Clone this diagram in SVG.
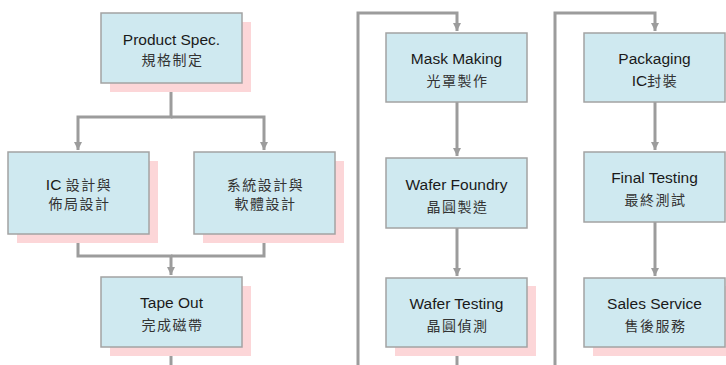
<svg xmlns="http://www.w3.org/2000/svg" width="726" height="365" viewBox="0 0 726 365">
<defs>
<style>
.shadow{fill:#fcd6d8;stroke:none}
.box{fill:#cfe9f0;stroke:#a3a3a3;stroke-width:1.5}
.en{font-family:"Liberation Sans",Arial,sans-serif;font-size:15.5px;fill:#1a1a1a;text-anchor:middle}
.zh{font-family:"Liberation Sans","Noto Sans CJK TC",sans-serif;font-size:14px;fill:#333;text-anchor:middle;letter-spacing:1.5px}
.cj{font-family:"Noto Sans CJK TC",sans-serif;font-size:14px;fill:#333;letter-spacing:1.5px}
.conn{fill:none;stroke:#9c9c9c;stroke-width:3}
</style>
<marker id="arr" markerUnits="userSpaceOnUse" markerWidth="10" markerHeight="10" refX="8" refY="4" orient="auto">
<path d="M0 0 L8 4 L0 8 Z" fill="#9c9c9c"/>
</marker>
</defs>
<rect width="726" height="365" fill="#fff"/>
<g id="connectors">
<path class="conn" d="M171 83 V117 H78 V150" marker-end="url(#arr)"/>
<path class="conn" d="M171 117 H264 V150" marker-end="url(#arr)"/>
<path class="conn" d="M78 234 V256 H171 V275" marker-end="url(#arr)"/>
<path class="conn" d="M264 234 V256 H171"/>
<path class="conn" d="M171 347 V365"/>
<path class="conn" d="M358 365 V13 H457 V31" marker-end="url(#arr)"/>
<path class="conn" d="M457 102 V156" marker-end="url(#arr)"/>
<path class="conn" d="M457 228 V276" marker-end="url(#arr)"/>
<path class="conn" d="M457 347 V365"/>
<path class="conn" d="M555 365 V13 H655 V31" marker-end="url(#arr)"/>
<path class="conn" d="M655 102 V150" marker-end="url(#arr)"/>
<path class="conn" d="M655 222 V276" marker-end="url(#arr)"/>
</g>
<g id="product-spec">
<rect class="shadow" x="110" y="22" width="141" height="70"/>
<rect class="box" x="101" y="13" width="141" height="70"/>
<text class="en" x="171.5" y="45">Product Spec.</text>
<text class="zh" x="172.5" y="65">規格制定</text>
</g>
<g id="ic-design">
<rect class="shadow" x="17" y="161" width="141" height="82"/>
<rect class="box" x="8" y="152" width="141" height="82"/>
<text class="en" x="79" y="190"><tspan>IC </tspan><tspan class="cj">設計與</tspan></text>
<text class="zh" x="79.5" y="209">佈局設計</text>
</g>
<g id="system-design">
<rect class="shadow" x="203" y="161" width="141" height="82"/>
<rect class="box" x="194" y="152" width="141" height="82"/>
<text class="zh" x="265.5" y="190">系統設計與</text>
<text class="zh" x="265.5" y="209">軟體設計</text>
</g>
<g id="tape-out">
<rect class="shadow" x="110" y="286" width="141" height="70"/>
<rect class="box" x="101" y="277" width="141" height="70"/>
<text class="en" x="171.5" y="308">Tape Out</text>
<text class="zh" x="172.5" y="330">完成磁帶</text>
</g>
<g id="mask-making">
<rect class="box" x="386" y="33" width="141" height="69"/>
<text class="en" x="456.5" y="64">Mask Making</text>
<text class="zh" x="457.5" y="86">光罩製作</text>
</g>
<g id="wafer-foundry">
<rect class="box" x="386" y="158" width="141" height="70"/>
<text class="en" x="456.5" y="190">Wafer Foundry</text>
<text class="zh" x="457.5" y="212">晶圓製造</text>
</g>
<g id="wafer-testing">
<rect class="shadow" x="395" y="286" width="141" height="70"/>
<rect class="box" x="386" y="278" width="141" height="69"/>
<text class="en" x="456.5" y="309">Wafer Testing</text>
<text class="zh" x="457.5" y="331">晶圓偵測</text>
</g>
<g id="packaging">
<rect class="box" x="584" y="33" width="141" height="69"/>
<text class="en" x="654.5" y="64">Packaging</text>
<text class="en" x="655" y="86"><tspan>IC</tspan><tspan class="cj">封裝</tspan></text>
</g>
<g id="final-testing">
<rect class="box" x="584" y="152" width="141" height="70"/>
<text class="en" x="654.5" y="183">Final Testing</text>
<text class="zh" x="655.5" y="205">最終測試</text>
</g>
<g id="sales-service">
<rect class="shadow" x="593" y="286" width="141" height="70"/>
<rect class="box" x="584" y="278" width="141" height="69"/>
<text class="en" x="654.5" y="309">Sales Service</text>
<text class="zh" x="655.5" y="331">售後服務</text>
</g>
</svg>
